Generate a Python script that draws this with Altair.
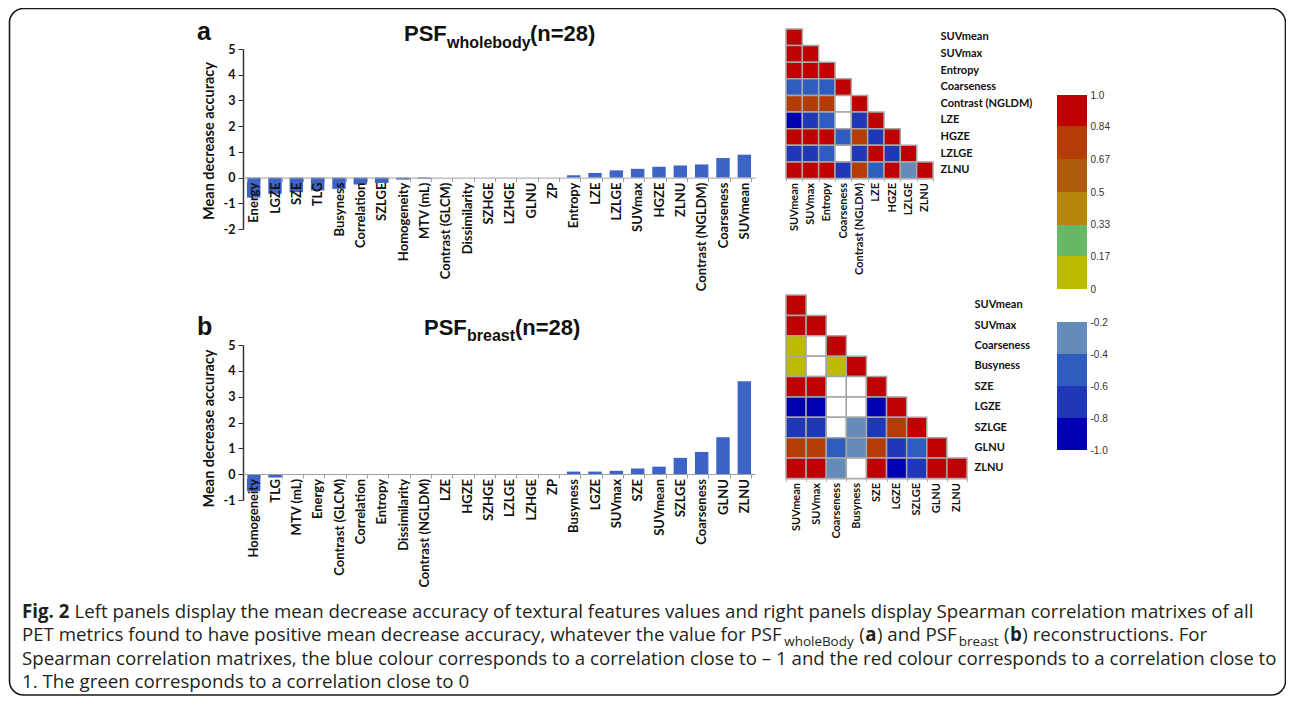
import altair as alt
import pandas as pd

# ---------------- data ----------------
feat_a = ["Energy", "LGZE", "SZE", "TLG", "Busyness", "Correlation", "SZLGE",
          "Homogeneity", "MTV (mL)", "Contrast (GLCM)", "Dissimilarity", "SZHGE",
          "LZHGE", "GLNU", "ZP", "Entropy", "LZE", "LZLGE", "SUVmax", "HGZE",
          "ZLNU", "Contrast (NGLDM)", "Coarseness", "SUVmean"]
mda_a = [-0.78, -0.63, -0.57, -0.50, -0.44, -0.27, -0.21, -0.08, -0.04, 0, 0, 0,
         0, 0, 0, 0.09, 0.18, 0.28, 0.34, 0.42, 0.47, 0.51, 0.76, 0.89]

feat_b = ["Homogeneity", "TLG", "MTV (mL)", "Energy", "Contrast (GLCM)",
          "Correlation", "Entropy", "Dissimilarity", "Contrast (NGLDM)", "LZE",
          "HGZE", "SZHGE", "LZLGE", "LZHGE", "ZP", "Busyness", "LGZE", "SUVmax",
          "SZE", "SUVmean", "SZLGE", "Coarseness", "GLNU", "ZLNU"]
mda_b = [-0.66, -0.13, 0, 0, 0, 0, 0, 0, 0, 0, 0, 0, 0, 0, 0, 0.10, 0.10, 0.13,
         0.22, 0.29, 0.63, 0.86, 1.43, 3.60]

vars_a = ["SUVmean", "SUVmax", "Entropy", "Coarseness", "Contrast (NGLDM)",
          "LZE", "HGZE", "LZLGE", "ZLNU"]
corr_a = [
    [1.0],
    [0.95, 1.0],
    [0.92, 0.93, 1.0],
    [-0.5, -0.5, -0.5, 1.0],
    [0.75, 0.76, 0.74, -0.1, 1.0],
    [-0.9, -0.7, -0.5, -0.1, -0.7, 1.0],
    [0.92, 0.9, 0.9, -0.5, 0.75, -0.7, 1.0],
    [-0.7, -0.7, -0.5, -0.1, -0.7, 0.9, -0.7, 1.0],
    [0.9, 0.9, 0.88, -0.7, 0.75, -0.5, 0.9, -0.3, 1.0],
]

vars_b = ["SUVmean", "SUVmax", "Coarseness", "Busyness", "SZE", "LGZE",
          "SZLGE", "GLNU", "ZLNU"]
corr_b = [
    [1.0],
    [0.98, 1.0],
    [0.1, -0.1, 1.0],
    [0.1, -0.1, 0.1, 1.0],
    [0.92, 0.9, -0.1, -0.1, 1.0],
    [-0.9, -0.9, -0.1, -0.1, -0.9, 1.0],
    [-0.7, -0.7, -0.1, -0.3, -0.7, 0.75, 1.0],
    [0.75, 0.75, -0.5, -0.3, 0.75, -0.7, -0.5, 1.0],
    [0.9, 0.9, -0.3, -0.1, 0.9, -0.9, -0.7, 0.9, 1.0],
]

pos_edges = [0, 0.17, 0.33, 0.5, 0.67, 0.84, 1.0]
neg_edges = [-1.0, -0.8, -0.6, -0.4, -0.2]
thresholds = [-0.8, -0.6, -0.4, -0.2, 0, 0.17, 0.33, 0.5, 0.67, 0.84]
palette = ["#0000b2", "#1f38b8", "#2e5dbf", "#658bbb", "#ffffff", "#bdbb00",
           "#66b866", "#b5870b", "#ae5b0a", "#b33c07", "#bf0000"]

y_ticks_a = [-2, -1, 0, 1, 2, 3, 4, 5]
y_ticks_b = [-1, 0, 1, 2, 3, 4, 5]

cap1_bold = "Fig. 2"
cap1_rest = (" Left panels display the mean decrease accuracy of textural features "
             "values and right panels display Spearman correlation matrixes of all")
cap2 = [("PET metrics found to have positive mean decrease accuracy, whatever the value for PSF", "r"),
        ("wholeBody", "s"), (" (", "r"), ("a", "b"), (") and PSF", "r"),
        ("breast", "s"), (" (", "r"), ("b", "b"), (") reconstructions. For", "r")]
cap3 = ("Spearman correlation matrixes, the blue colour corresponds to a correlation "
        "close to \u2013 1 and the red colour corresponds to a correlation close to")
cap4 = "1. The green corresponds to a correlation close to 0"

# ---------------- styling ----------------
W, H = 1278, 688
BAR_BLUE = "#3d63c6"
LAB = "Lato"
TIT = "Liberation Sans"
CAP = "Open Sans"
INK = "#111111"


def v(p):
    """page pixel -> view pixel"""
    return p - 8


color_scale = alt.Scale(type="threshold", domain=thresholds, range=palette)


def bar_panel(feats, vals, dom, y_top, y_bot, zero_y, title_y, ticks):
    df = pd.DataFrame({"feature": feats, "mda": vals})
    return alt.Chart(df).mark_bar(color=BAR_BLUE).encode(
        x=alt.X("feature:N", sort=feats,
                scale=alt.Scale(range=[v(243), v(755)], paddingInner=0.37, paddingOuter=0.185),
                axis=alt.Axis(orient="bottom", offset=v(zero_y) - H, title=None,
                              labelAngle=-90, labelFont=LAB, labelFontSize=13,
                              labelFontWeight="bold", labelColor=INK, labelPadding=0.5,
                              labelLimit=300, domainColor="#a0a0a0", domainWidth=1,
                              tickColor="#a0a0a0", tickSize=4, tickBand="extent",
                              zindex=1)),
        y=alt.Y("mda:Q",
                scale=alt.Scale(domain=dom, range=[v(y_bot), v(y_top)], nice=False),
                axis=alt.Axis(orient="left", offset=-v(243), values=ticks,
                              labelExpr="'' + datum.value", grid=False,
                              title="Mean decrease accuracy", titleFont=LAB,
                              titleFontSize=14.5, titleFontWeight="bold", titleColor=INK,
                              titleX=209 - 243, titleY=v(title_y), titleBaseline="middle",
                              titleAngle=-90, labelFont=LAB, labelFontSize=12.5,
                              labelFontWeight="bold", labelColor=INK, labelPadding=3,
                              domainColor="#333333", domainWidth=1.5,
                              tickColor="#333333", tickSize=5)),
    )


def heat_panel(vars_, corr, x0, x1, y0, y1):
    rows = []
    for i, rv in enumerate(vars_):
        for j, val in enumerate(corr[i]):
            rows.append({"row": rv, "col": vars_[j], "rho": val})
    df = pd.DataFrame(rows)
    common = dict(labelFont=LAB, labelFontSize=11, labelFontWeight="bold", labelColor=INK)
    return alt.Chart(df).mark_rect(stroke="#a6a6a6", strokeWidth=1.5).encode(
        x=alt.X("col:N", sort=vars_,
                scale=alt.Scale(range=[v(x0), v(x1)], paddingInner=0, paddingOuter=0),
                axis=alt.Axis(orient="bottom", offset=v(y1) - H, title=None, labelAngle=-90,
                              labelPadding=1, domainColor="#b5b5b5", tickColor="#b5b5b5",
                              tickSize=3, tickBand="extent", **common)),
        y=alt.Y("row:N", sort=vars_,
                scale=alt.Scale(range=[v(y0), v(y1)], paddingInner=0, paddingOuter=0),
                axis=alt.Axis(orient="right", offset=v(x1) - W, title=None, domain=False,
                              ticks=False, labelPadding=7, **common)),
        color=alt.Color("rho:Q", scale=color_scale, legend=None),
    )


def legend_panel(edges, y_top, y_bot, expr):
    df = pd.DataFrame({"lo": edges[:-1], "hi": edges[1:]})
    return alt.Chart(df).transform_calculate(
        rho="(datum.lo + datum.hi) / 2", k="'k'"
    ).mark_rect().encode(
        x=alt.X("k:N", scale=alt.Scale(range=[v(1057), v(1087)], paddingInner=0, paddingOuter=0),
                axis=None),
        y=alt.Y("lo:Q",
                scale=alt.Scale(domain=[edges[0], edges[-1]], range=[v(y_bot), v(y_top)],
                                nice=False, zero=False),
                axis=alt.Axis(orient="right", offset=v(1087) - W, values=edges,
                              labelExpr=expr, title=None, grid=False, domain=False,
                              ticks=False, labelPadding=3, labelFont=TIT,
                              labelFontSize=10, labelColor="#333333")),
        y2="hi:Q",
        color=alt.Color("rho:Q", scale=color_scale, legend=None),
    )


def txt(s, x, y, size, font, weight="normal", color=INK):
    return alt.Chart(alt.Data(values=[{}])).mark_text(
        text=s, font=font, fontSize=size, fontWeight=weight, color=color,
        align="left", baseline="alphabetic"
    ).encode(x=alt.value(v(x)), y=alt.value(v(y)))


# approximate Open Sans advance widths (units per em 2048) to lay out caption runs
OS_R = {' ': 532, 'a': 1139, 'b': 1255, 'c': 975, 'd': 1255, 'e': 1149, 'f': 694,
        'g': 1122, 'h': 1257, 'i': 518, 'j': 518, 'k': 1075, 'l': 518, 'm': 1905,
        'n': 1257, 'o': 1237, 'p': 1255, 'q': 1255, 'r': 836, 's': 977, 't': 723,
        'u': 1257, 'v': 1026, 'w': 1593, 'x': 1073, 'y': 1028, 'z': 977,
        'A': 1296, 'B': 1327, 'C': 1292, 'D': 1493, 'E': 1139, 'F': 1057, 'G': 1491,
        'H': 1511, 'I': 571, 'L': 1073, 'M': 1849, 'N': 1544, 'O': 1595, 'P': 1233,
        'R': 1266, 'S': 1124, 'T': 1133, '0': 1171, '1': 1171, '2': 1171,
        '.': 545, ',': 502, '(': 606, ')': 606, '\u2013': 1024, '-': 659}
OS_B = {'F': 1161, 'i': 625, 'g': 1157, '.': 586, ' ': 532, '2': 1171,
        'a': 1225, 'b': 1296}


def em(s, table):
    return sum(table.get(c, 1150) for c in s) / 2048.0


fs = 0.984 * 1253.0 / (em(cap1_bold, OS_B) + em(cap1_rest, OS_R))
sub_fs = fs * 0.72
X0 = 22
base = [617.5, 641, 664.5, 688]
GAP = 1.5

texts = []
# panel letters and titles
texts.append(txt("a", 197, 39.5, 25, TIT, "bold"))
texts.append(txt("PSF", 404, 41, 22, TIT, "bold"))
texts.append(txt("wholebody", 447, 48, 16, TIT, "bold"))
texts.append(txt("(n=28)", 530, 41, 22, TIT, "bold"))
texts.append(txt("b", 197, 335, 25, TIT, "bold"))
texts.append(txt("PSF", 424, 335, 22, TIT, "bold"))
texts.append(txt("breast", 467, 341, 16, TIT, "bold"))
texts.append(txt("(n=28)", 515, 335, 22, TIT, "bold"))

# caption line 1
texts.append(txt(cap1_bold, X0, base[0], fs, CAP, "bold", "#231f20"))
x = X0 + em(cap1_bold, OS_B) * fs + em(" ", OS_R) * fs
texts.append(txt(cap1_rest.strip(), x, base[0], fs, CAP, "normal", "#231f20"))
# caption line 2 (rich runs)
x = X0
for s, kind in cap2:
    lead = len(s) - len(s.lstrip(" "))
    if kind == "s":
        size, table, weight, yb = sub_fs, OS_R, "normal", base[1] + 4.5
        x += GAP
    elif kind == "b":
        size, table, weight, yb = fs, OS_B, "bold", base[1]
    else:
        size, table, weight, yb = fs, OS_R, "normal", base[1]
    x_start = x + em(" " * lead, OS_R) * size
    texts.append(txt(s.strip(" "), x_start, yb, size, CAP, weight, "#231f20"))
    x = x + em(s, table) * size + 0.5
texts.append(txt(cap3, X0, base[2], fs, CAP, "normal", "#231f20"))
texts.append(txt(cap4, X0, base[3], fs, CAP, "normal", "#231f20"))

border = alt.Chart(alt.Data(values=[{}])).mark_rect(
    fillOpacity=0, stroke="#1a1a1a", strokeWidth=1.6, cornerRadius=14
).encode(x=alt.value(v(9.5)), x2=alt.value(v(1285.5)), y=alt.value(v(8.5)), y2=alt.value(v(695)))

bar_a = bar_panel(feat_a, mda_a, [-2, 5], 49, 229, 177.6, 140.5, y_ticks_a)
bar_b = bar_panel(feat_b, mda_b, [-1, 5], 345, 500, 474, 428, y_ticks_b)
heat_a = heat_panel(vars_a, corr_a, 786, 933, 29, 178.5)
heat_b = heat_panel(vars_b, corr_b, 786, 967, 295, 478.5)
leg_pos = legend_panel(pos_edges, 95, 289, "datum.value == 1 ? '1.0' : '' + datum.value")
leg_neg = legend_panel(neg_edges, 322, 450, "datum.value == -1 ? '-1.0' : '' + datum.value")

chart = alt.layer(
    border, bar_a, bar_b, heat_a, heat_b, leg_pos, leg_neg, *texts
).resolve_scale(
    x="independent", y="independent"
).properties(
    width=W, height=H, padding=0, autosize=alt.AutoSizeParams(type="none")
).configure_view(stroke=None)

chart.save("out.html", embed_options={"renderer": "svg", "actions": False})
